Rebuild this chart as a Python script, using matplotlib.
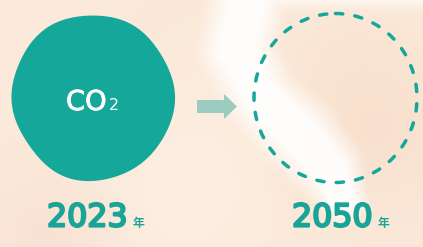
import numpy as np
import matplotlib
matplotlib.use("Agg")
import matplotlib.pyplot as plt
from matplotlib.patches import Polygon, Ellipse
import matplotlib.patheffects as pe

# --- content ---
years = ["2023", "2050"]
year_unit = "年"
gas_label = "CO"
gas_sub = "2"

TEAL = "#14a79a"
TEAL_TEXT = "#1aa497"
ARROW = "#9ccbc0"

W, H = 423, 247

# outline of the CO2 blob (x, y in pixels)
blob_x = [25, 43, 70, 80, 110, 127, 140, 157, 167, 173, 176, 173, 163, 157,
          147, 133, 113, 97, 77, 57, 37, 30, 18, 15, 13, 17, 23]
blob_y = [50, 33, 18, 15, 18, 22, 30, 47, 67, 87, 103, 120, 133, 147,
          160, 170, 175, 182, 180, 173, 157, 140, 133, 120, 93, 70, 53]
blob_center = (95, 98)


def smooth_outline(xs, ys, c, harmonics=6, n=360):
    # fit r(theta) with a short Fourier series so the edge stays soft and wobbly
    dx = np.asarray(xs, float) - c[0]
    dy = np.asarray(ys, float) - c[1]
    th = np.arctan2(dy, dx)
    r = np.hypot(dx, dy)
    cols = [np.ones_like(th)]
    for k in range(1, harmonics + 1):
        cols += [np.cos(k * th), np.sin(k * th)]
    coef, *_ = np.linalg.lstsq(np.column_stack(cols), r, rcond=None)
    t = np.linspace(-np.pi, np.pi, n, endpoint=False)
    cols = [np.ones_like(t)]
    for k in range(1, harmonics + 1):
        cols += [np.cos(k * t), np.sin(k * t)]
    rr = np.column_stack(cols) @ coef
    return np.column_stack([c[0] + rr * np.cos(t), c[1] + rr * np.sin(t)])


def background():
    yy, xx = np.mgrid[0:H, 0:W].astype(float)
    img = np.zeros((H, W, 3))
    img[:] = np.array([251, 234, 218]) / 255.0
    # soft colour patches of the watercolour wash
    patches = [
        (40, 30, 70, (252, 236, 221), 0.6),
        (385, 130, 55, (248, 219, 200), 0.6),
        (350, 70, 45, (249, 224, 205), 0.5),
        (330, 150, 35, (248, 222, 202), 0.4),
        (50, 235, 45, (246, 218, 204), 0.5),
        (185, 190, 60, (252, 240, 229), 0.7),
        (200, 130, 45, (252, 238, 225), 0.5),
        (405, 230, 45, (250, 230, 214), 0.5),
        (120, 60, 60, (250, 232, 216), 0.3),
    ]
    for cx, cy, r, col, s in patches:
        a = s * np.exp(-((xx - cx) ** 2 + (yy - cy) ** 2) / (2 * r ** 2))
        img = img * (1 - a[..., None]) + np.array(col)[None, None, :] / 255.0 * a[..., None]
    # white brush stroke running down through the dashed circle
    sx = np.array([250, 236, 262, 300, 328, 343])
    sy = np.array([-10, 50, 100, 135, 168, 200])
    sw = np.array([34, 34, 32, 36, 32, 22])
    d = np.full((H, W), 1e9)
    wmap = np.ones((H, W))
    for i in range(len(sx) - 1):
        ax_, ay_, bx_, by_ = sx[i], sy[i], sx[i + 1], sy[i + 1]
        vx, vy = bx_ - ax_, by_ - ay_
        t = np.clip(((xx - ax_) * vx + (yy - ay_) * vy) / (vx * vx + vy * vy), 0, 1)
        dist = np.hypot(xx - (ax_ + t * vx), yy - (ay_ + t * vy))
        ww = sw[i] + t * (sw[i + 1] - sw[i])
        mask = dist < d
        d = np.where(mask, dist, d)
        wmap = np.where(mask, ww, wmap)
    a = np.clip(1.6 - 1.3 * d / wmap, 0, 1) * 0.95
    # light band along the top right edge
    a = np.maximum(a, 0.7 * np.exp(-((yy + 2) ** 2) / (2 * 7 ** 2)) * np.clip((xx - 240) / 40, 0, 1))
    img = img * (1 - a[..., None]) + a[..., None] * np.array([1.0, 0.997, 0.992])
    return img


fig = plt.figure(figsize=(W / 100, H / 100), dpi=100)
ax = fig.add_axes([0, 0, 1, 1])
ax.set_xlim(0, W)
ax.set_ylim(H, 0)
ax.axis("off")

ax.imshow(background(), extent=(0, W, H, 0), interpolation="bilinear", zorder=0)

# solid blob for today's emissions
pts = smooth_outline(blob_x, blob_y, blob_center)
ax.add_patch(Polygon(pts, closed=True, facecolor=TEAL, edgecolor="none", zorder=2))

ax.text(66, 110, gas_label, color="white", fontsize=19.7, fontfamily="DejaVu Sans",
        ha="left", va="baseline", zorder=3,
        path_effects=[pe.withStroke(linewidth=0.6, foreground="white")])
ax.text(109, 110, gas_sub, color="white", fontsize=11.5, fontfamily="DejaVu Sans",
        ha="left", va="baseline", zorder=3)

# arrow
arrow_pts = [(197, 100), (224, 100), (224, 94), (237, 106.5),
             (224, 119), (224, 113), (197, 113)]
ax.add_patch(Polygon(arrow_pts, closed=True, facecolor=ARROW, edgecolor="none", zorder=2))

# dashed target circle
circ = Ellipse((335.5, 98), 163, 169, fill=False, edgecolor=TEAL, linewidth=2.5,
               linestyle=(0, (2.1, 3.5)), zorder=2)
circ.set_capstyle("round")
ax.add_patch(circ)

# year labels
year_x = [47, 292]
unit_x = [133, 378]
for yr, xa, xu in zip(years, year_x, unit_x):
    ax.text(xa, 226.5, yr, color=TEAL_TEXT, fontsize=22.8, fontfamily="DejaVu Sans",
            ha="left", va="baseline", zorder=3,
            path_effects=[pe.withStroke(linewidth=1.6, foreground=TEAL_TEXT)])
    ax.text(xu, 226.5, year_unit, color=TEAL_TEXT, fontsize=8.5,
            fontfamily=["Noto Sans CJK JP", "DejaVu Sans"], fontweight="bold",
            ha="left", va="baseline", zorder=3)

fig.savefig("out.png", dpi=100)
